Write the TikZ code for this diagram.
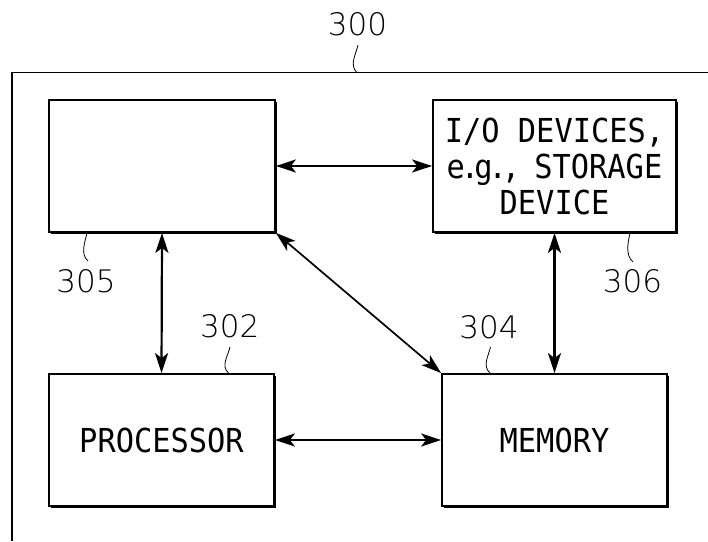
\documentclass[tikz,border=0pt]{standalone}
\usepackage{fontspec}
\newfontfamily\boxfont[FakeStretch=0.92]{DejaVu Sans Mono}
\newfontfamily\lblfont{DejaVu Sans ExtraLight}
\usetikzlibrary{arrows.meta,shadows}
\tikzset{
  box/.style={draw,line width=1.8pt,fill=white,minimum width=#1,minimum height=132pt,inner sep=0pt,
    drop shadow={shadow xshift=2.2pt,shadow yshift=-2.2pt,fill=black,opacity=1},
    font={\boxfont\fontsize{33}{36}\selectfont},align=center},
  lbl/.style={font={\lblfont\fontsize{31}{31}\selectfont},inner sep=0pt},
  lead/.style={line width=0.8pt},
  arr/.style={<->,line width=2.2pt},
  darr/.style={<->,line width=1.7pt},
  frame/.style={line width=1.7pt}
}
\begin{document}
\begin{tikzpicture}[x=1pt,y=-1pt,>={Stealth[length=20pt,width=13pt,inset=5pt]}]
\useasboundingbox (0,0) rectangle (708,541);
% outer frame
\coordinate (f1) at (12,541);
\coordinate (f3) at (708,72.5);
\draw[frame] (f1) |- (f3);
% boxes
\node[box=226pt] (b305) at (162,166) {};
\node[box=243pt] (io) at (554.5,166) {I/O DEVICES,\\e\kern-4pt.\kern-5pt g\kern-4pt.\kern-5pt,\kern-4pt{} STORAGE\\DEVICE};
\node[box=225pt] (proc) at (161.5,440) {PROCESSOR};
\node[box=225pt] (mem) at (554.5,440) {MEMORY};
% connectors
\draw[arr] (b305.east) -- (io.west);
\draw[arr] (b305.south) -- (proc.north);
\draw[darr] (b305.south east) -- (mem.north west);
\draw[arr] (io.south) -- (mem.north);
\draw[arr] (proc.east) -- (mem.west);
% labels
\node[lbl] (t300) at (357.5,24.7) {300};
\node[lbl] (t305) at (86,281.5) {305};
\node[lbl] (t302) at (229.7,326.5) {302};
\node[lbl] (t306) at (632.5,281.7) {306};
\node[lbl] (t304) at (489,327) {304};
% leaders
\coordinate (l300a) at (358,45);   \coordinate (l300b) at (357,72.5);
\coordinate (l305a) at (87,233);   \coordinate (l305b) at (88,261);
\coordinate (l302a) at (230,347);  \coordinate (l302b) at (228.5,373);
\coordinate (l306a) at (630,233);  \coordinate (l306b) at (633,262);
\coordinate (l304a) at (490.5,347);\coordinate (l304b) at (490,373);
\foreach \n in {300,305,302,306,304}{
  \draw[lead] (l\n a) .. controls +(-2,9) and +(-8,-7) .. (l\n b);
}
\end{tikzpicture}
\end{document}
